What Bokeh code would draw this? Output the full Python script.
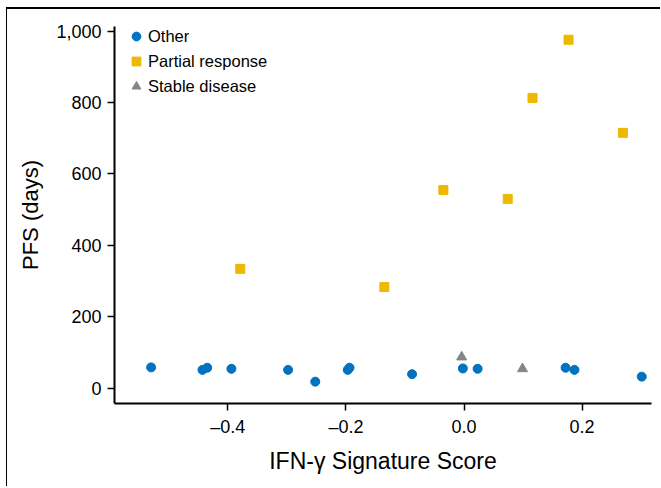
from bokeh.plotting import figure
from bokeh.models import (ColumnDataSource, Range1d, FixedTicker, NumeralTickFormatter,
                          Legend, LegendItem)
from bokeh.embed import file_html
from bokeh.resources import INLINE

# ---- data ----
other_x = [-0.530, -0.443, -0.435, -0.394, -0.298, -0.252, -0.197, -0.194,
           -0.088, -0.002, 0.023, 0.172, 0.187, 0.301]
other_y = [58, 51, 57, 54, 51, 18, 51, 57, 39, 55, 54, 57, 51, 32]

pr_x = [-0.379, -0.135, -0.035, 0.074, 0.116, 0.177, 0.269]
pr_y = [334, 283, 555, 530, 813, 976, 715]

sd_x = [-0.004, 0.099]
sd_y = [87, 54]

x_ticks = [-0.4, -0.2, 0.0, 0.2]
x_tick_labels = ["\u20130.4", "\u20130.2", "0.0", "0.2"]
y_ticks = [0, 200, 400, 600, 800, 1000]

series_names = ["Other", "Partial response", "Stable disease"]
x_title = "IFN-\u03b3 Signature Score"
y_title = "PFS (days)"

BLUE = "#0072BF"
GOLD = "#EDB900"
GRAY = "#858585"
FONT = "Liberation Sans"

p = figure(width=654, height=479, output_backend="svg", toolbar_location=None,
           x_range=Range1d(-0.592, 0.3175), y_range=Range1d(-43.2, 1013),
           min_border_left=107, min_border_right=10, min_border_top=17,
           min_border_bottom=85)
p.margin = (7, 0, 0, 6)
p.styles = {"border-top": "2px solid black", "border-left": "1px solid black"}

p.outline_line_color = None
p.xgrid.visible = False
p.ygrid.visible = False
p.background_fill_color = "white"
p.border_fill_color = "white"

src_o = ColumnDataSource(dict(x=other_x, y=other_y))
src_p = ColumnDataSource(dict(x=pr_x, y=pr_y))
src_s = ColumnDataSource(dict(x=sd_x, y=sd_y))

r_o = p.scatter("x", "y", source=src_o, marker="circle", size=9,
                fill_color=BLUE, line_color=BLUE)
r_p = p.scatter("x", "y", source=src_p, marker="square", size=9,
                fill_color=GOLD, line_color=GOLD)
r_s = p.scatter("x", "y", source=src_s, marker="triangle", size=10,
                fill_color=GRAY, line_color=GRAY)

for ax in (p.xaxis[0], p.yaxis[0]):
    ax.axis_line_width = 2
    ax.axis_line_color = "black"
    ax.major_tick_line_color = "black"
    ax.major_tick_line_width = 1.5
    ax.major_tick_out = 7
    ax.major_tick_in = 0
    ax.minor_tick_line_color = None
    ax.major_label_text_font = FONT
    ax.major_label_text_font_size = "18px"
    ax.major_label_text_color = "black"
    ax.axis_label_text_font = FONT
    ax.axis_label_text_font_style = "normal"
    ax.axis_label_text_color = "black"

p.xaxis[0].ticker = FixedTicker(ticks=x_ticks)
p.xaxis[0].major_label_overrides = {t: l for t, l in zip(x_ticks, x_tick_labels)}
p.xaxis[0].major_label_standoff = 6
p.xaxis[0].axis_label = x_title
p.xaxis[0].axis_label_text_font_size = "23px"
p.xaxis[0].axis_label_standoff = 8

p.yaxis[0].ticker = FixedTicker(ticks=y_ticks)
p.yaxis[0].formatter = NumeralTickFormatter(format="0,0")
p.yaxis[0].major_label_standoff = 6
p.yaxis[0].axis_label = y_title
p.yaxis[0].axis_label_text_font_size = "22px"
p.yaxis[0].axis_label_standoff = 10

legend = Legend(items=[LegendItem(label=series_names[0], renderers=[r_o]),
                       LegendItem(label=series_names[1], renderers=[r_p]),
                       LegendItem(label=series_names[2], renderers=[r_s])],
                location=(11, 306), orientation="vertical",
                border_line_color=None, background_fill_alpha=0,
                padding=0, margin=0, spacing=3,
                glyph_width=22, glyph_height=22, label_height=22,
                label_standoff=1,
                label_text_font=FONT, label_text_font_size="16.5px",
                label_text_color="black")
p.add_layout(legend)

open("out.html", "w").write(file_html(p, INLINE))
